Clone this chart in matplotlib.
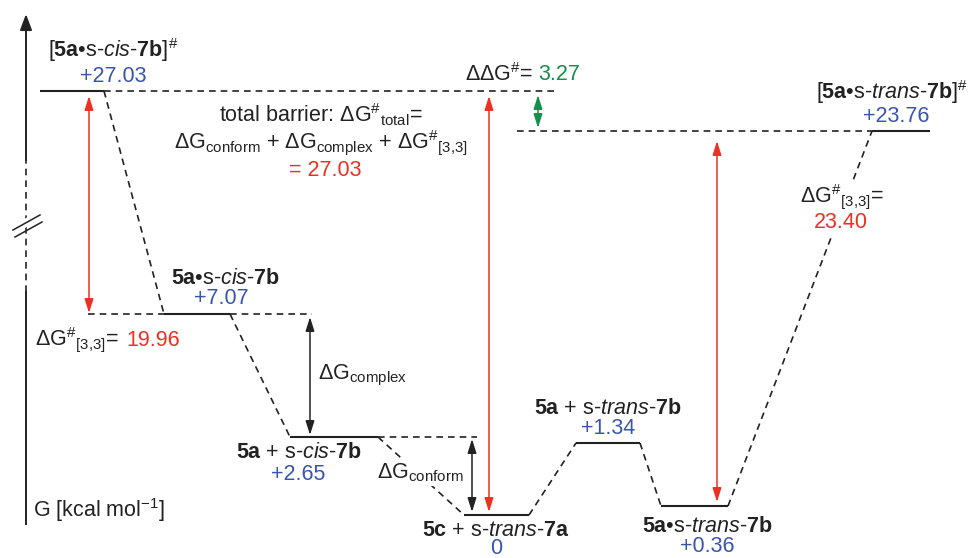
import numpy as np
import matplotlib
matplotlib.use("Agg")
import matplotlib.pyplot as plt

plt.rcParams['font.family'] = ['Liberation Sans', 'DejaVu Sans']
plt.rcParams['mathtext.fontset'] = 'custom'
plt.rcParams['mathtext.rm'] = 'Liberation Sans'
plt.rcParams['mathtext.it'] = 'Liberation Sans:italic'
plt.rcParams['mathtext.bf'] = 'Liberation Sans:bold'

# Dados: estados e energias livres (kcal/mol)
states = [r'[$\mathbf{5a}$•s-$\mathit{cis}$-$\mathbf{7b}$]$^{\#}$',
          r'$\mathbf{5a}$•s-$\mathit{cis}$-$\mathbf{7b}$',
          r'$\mathbf{5a}$ + s-$\mathit{cis}$-$\mathbf{7b}$',
          r'$\mathbf{5c}$ + s-$\mathit{trans}$-$\mathbf{7a}$',
          r'$\mathbf{5a}$ + s-$\mathit{trans}$-$\mathbf{7b}$',
          r'$\mathbf{5a}$•s-$\mathit{trans}$-$\mathbf{7b}$',
          r'[$\mathbf{5a}$•s-$\mathit{trans}$-$\mathbf{7b}$]$^{\#}$']
energies = [27.03, 7.07, 2.65, 0.00, 1.34, 0.36, 23.76]

# Layout esquemático (eixo quebrado, coordenadas de desenho)
level_y = [91, 314, 437, 515, 443, 506, 131]
level_x0 = [40, 164, 290, 464, 576, 661, 872]
level_x1 = [104, 230, 378, 529, 640, 728, 930]
name_pos = [(113, 50), (225, 278), (299, 453), (496, 530), (608, 408), (707, 526), (892, 92)]
value_pos = [(113, 76), (221, 298), (298, 475), (496, 549), (608, 429), (707, 547), (896, 117)]

blue = '#3a55b0'
red = '#ee3024'
green = '#15904a'
ink = '#222222'
fs = 15.5
white_bg = dict(facecolor='white', edgecolor='none', pad=1.0)

fig = plt.figure(figsize=(9.72, 5.58), dpi=100)
ax = fig.add_axes([0, 0, 1, 1])
ax.set_xlim(0, 972)
ax.set_ylim(558, 0)
ax.axis('off')

dash = dict(color=ink, lw=1.2, linestyle=(0, (4, 3)), zorder=1)

# Níveis
for i in range(len(energies)):
    ax.plot([level_x0[i], level_x1[i]], [level_y[i], level_y[i]], color=ink, lw=1.5,
            solid_capstyle='butt', zorder=2)
    ax.text(*name_pos[i], states[i], ha='center', va='center', fontsize=fs, color=ink)
    e = energies[i]
    txt = '0' if e == 0 else f'+{e:.2f}'
    ax.text(*value_pos[i], txt, ha='center', va='center', fontsize=fs, color=blue)

# Conexões tracejadas
for i in range(len(energies) - 1):
    ax.plot([level_x1[i], level_x0[i + 1]], [level_y[i], level_y[i + 1]], **dash)

# Extensões tracejadas
ax.plot([level_x1[0], 555], [level_y[0]] * 2, **dash)
ax.plot([88, level_x0[1]], [level_y[1]] * 2, **dash)
ax.plot([level_x1[1], 312], [level_y[1]] * 2, **dash)
ax.plot([level_x1[2], 477], [level_y[2]] * 2, **dash)
ax.plot([517, level_x0[6]], [level_y[6]] * 2, **dash)


def arrow(x, y0, y1, color):
    ax.annotate('', xy=(x, y0), xytext=(x, y1),
                arrowprops=dict(arrowstyle='<|-|>,head_length=0.7,head_width=0.22',
                                color=color, lw=1.1, shrinkA=0, shrinkB=0, mutation_scale=12))


arrow(89, level_y[0] + 5, level_y[1] - 1, red)
arrow(310, level_y[1] + 3, level_y[2] - 2, ink)
arrow(472, level_y[2] + 2, level_y[3] - 3, ink)
arrow(489, level_y[0] + 5, level_y[3] - 3, red)
arrow(717, level_y[6] + 10, level_y[5] - 4, red)
arrow(538, level_y[0] + 4, level_y[6] - 3, green)

# Barreiras
dg_cis = energies[0] - energies[1]
dg_trans = energies[6] - energies[5]
ddg = energies[0] - energies[6]
dg33 = r'ΔG$^{\#}{}_{\mathrm{[3{,}3]}}$='

ax.text(35, 340, dg33, ha='left', va='center', fontsize=fs, color=ink)
ax.text(126, 340, f'{dg_cis:.2f}', ha='left', va='center', fontsize=fs, color=red)

ax.text(842, 197, dg33, ha='center', va='center', fontsize=fs, color=ink, bbox=white_bg, zorder=3)
ax.text(841, 223, f'{dg_trans:.2f}', ha='center', va='center', fontsize=fs, color=red, bbox=white_bg, zorder=3)

ax.text(533, 75, r'ΔΔG$^{\#}$=', ha='right', va='center', fontsize=fs, color=ink)
ax.text(538, 75, f'{ddg:.2f}', ha='left', va='center', fontsize=fs, color=green)

ax.text(321, 115, r'total barrier: ΔG$^{\#}{}_{\mathrm{total}}$=', ha='center', va='center', fontsize=fs, color=ink)
ax.text(321, 143, r'ΔG$_{\mathrm{conform}}$ + ΔG$_{\mathrm{complex}}$ + ΔG$^{\#}{}_{\mathrm{[3{,}3]}}$',
        ha='center', va='center', fontsize=fs, color=ink)
ax.text(325, 170, f'= {energies[0]:.2f}', ha='center', va='center', fontsize=fs, color=red)

ax.text(318, 375, r'ΔG$_{\mathrm{complex}}$', ha='left', va='center', fontsize=fs, color=ink)
ax.text(420, 473, r'ΔG$_{\mathrm{conform}}$', ha='center', va='center', fontsize=fs, color=ink,
        bbox=white_bg, zorder=3)

# Eixo G com quebra
ax.plot([26, 26], [524, 292], color=ink, lw=1.4)
ax.plot([26, 26], [292, 160], color=ink, lw=1.2, linestyle=(0, (4, 3)))
ax.annotate('', xy=(26, 14), xytext=(26, 160),
            arrowprops=dict(arrowstyle='-|>,head_length=0.8,head_width=0.3', color=ink, lw=1.4,
                            shrinkA=0, shrinkB=0, mutation_scale=12))
ax.plot([13, 40], [230, 215], color='white', lw=6)
ax.plot([13, 40], [230, 215], color=ink, lw=1.1)
ax.plot([15, 42], [237, 222], color=ink, lw=1.1)
ax.text(33, 510, r'G [kcal mol$^{-1}$]', ha='left', va='center', fontsize=fs, color=ink)

fig.savefig('out.png', dpi=100)
